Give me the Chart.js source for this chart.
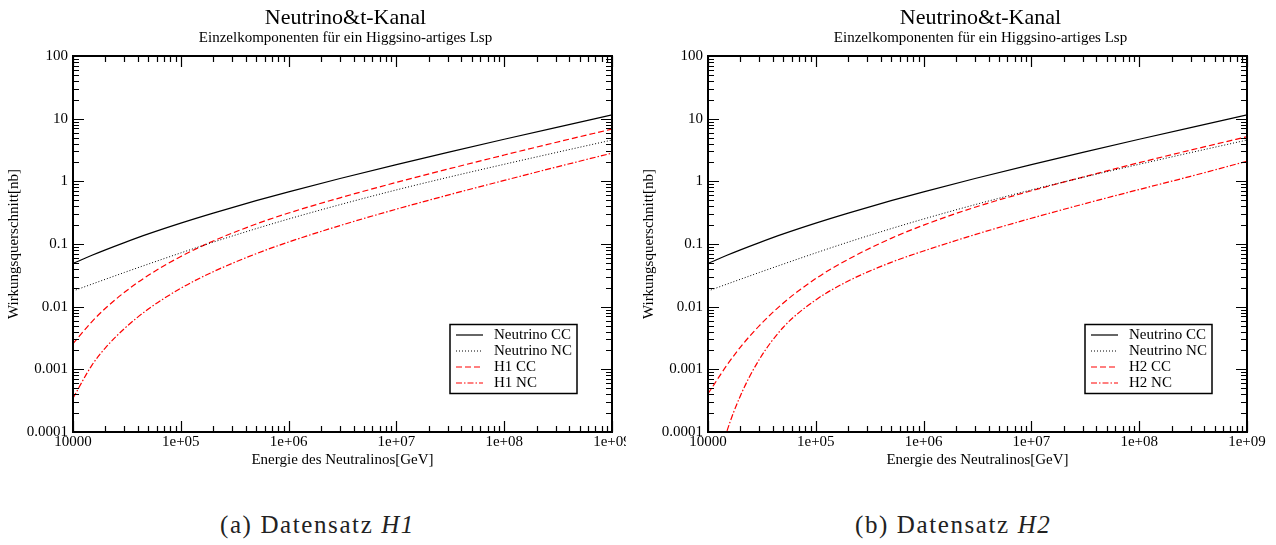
<!DOCTYPE html>
<html>
<head>
<meta charset="utf-8">
<script src="https://cdn.jsdelivr.net/npm/chart.js@4/dist/chart.umd.min.js"></script>
<style>
  body { margin: 0; background: #fff; width: 1276px; height: 545px; position: relative; overflow: hidden; }
  canvas { position: absolute; top: 0; }
  #chartA { left: 0; }
  #chartB { left: 636px; }
  .caption { position: absolute; top: 512px; font-family: "Liberation Serif", serif; font-size: 25px; line-height: 25px; letter-spacing: 1.6px; color: #222; white-space: nowrap; }
  #capA { left: 220px; }
  #capB { left: 855px; }
</style>
</head>
<body>
<canvas id="chartA" width="626" height="480"></canvas>
<canvas id="chartB" width="640" height="480"></canvas>
<div class="caption" id="capA">(a) Datensatz <i>H1</i></div>
<div class="caption" id="capB">(b) Datensatz <i>H2</i></div>
<script>
// neutralino energy in GeV
const energies = [1e4, 1.5e4, 2e4, 3e4, 5e4, 1e5, 2e5, 5e5, 1e6, 3e6, 1e7, 3e7, 1e8, 3e8, 1e9];

// cross sections in nb
const neutrinoCC = [0.049, 0.0661, 0.0807, 0.1054, 0.1449, 0.2153, 0.3112, 0.492, 0.6808, 1.109, 1.849, 2.904, 4.699, 7.211, 11.46];
const neutrinoNC = [0.01778, 0.02291, 0.02738, 0.03516, 0.04786, 0.07211, 0.1072, 0.1758, 0.2506, 0.4246, 0.7295, 1.156, 1.871, 2.871, 4.56];
const h1CC = [0.00257, 0.005781, 0.009419, 0.01694, 0.03162, 0.06324, 0.1117, 0.2084, 0.3119, 0.5458, 0.9616, 1.567, 2.63, 4.169, 6.823];
const h1NC = [0.0003467, 0.001169, 0.002203, 0.004477, 0.009162, 0.01963, 0.03614, 0.06998, 0.1076, 0.1968, 0.3597, 0.6026, 1.035, 1.679, 2.818];
const h2CC = [0.0004074, 0.001169, 0.002265, 0.004989, 0.01143, 0.02812, 0.05702, 0.123, 0.2, 0.3864, 0.7063, 1.169, 1.986, 3.148, 5.152];
const h2NC = [0.00000912, 0.000104, 0.0003802, 0.001449, 0.004699, 0.01282, 0.02564, 0.05093, 0.07727, 0.1413, 0.2576, 0.4315, 0.7413, 1.202, 2.094];

const xTickValues = [1e4, 1e5, 1e6, 1e7, 1e8, 1e9];
const xTickLabels = ['10000', '1e+05', '1e+06', '1e+07', '1e+08', '1e+09'];
const yTickValues = [1e-4, 1e-3, 1e-2, 1e-1, 1, 10, 100];
const yTickLabels = ['0.0001', '0.001', '0.01', '0.1', '1', '10', '100'];

const titleText = 'Neutrino&t-Kanal';
const subtitleText = 'Einzelkomponenten für ein Higgsino-artiges Lsp';
const xTitle = 'Energie des Neutralinos[GeV]';
const yTitle = 'Wirkungsquerschnitt[nb]';

const SERIF = '"Liberation Serif", "Times New Roman", serif';

function pts(ys) {
    return energies.map((e, i) => ({ x: e, y: ys[i] }));
}

// frame, inward ticks, labels, titles and the boxed legend
const framePlugin = {
    id: 'frame',
    afterDraw(chart) {
        const ctx = chart.ctx;
        const a = chart.chartArea;
        const xs = chart.scales.x;
        const ys = chart.scales.y;
        ctx.save();
        ctx.strokeStyle = '#000';
        ctx.lineWidth = 1.2;
        ctx.setLineDash([]);

        ctx.beginPath();
        for (let k = 4; k <= 9; k++) {
            for (let m = 1; m <= 9; m++) {
                const v = m * Math.pow(10, k);
                if (v > 1e9) break;
                const px = Math.round(xs.getPixelForValue(v)) + 0.5;
                const len = m === 1 ? 11 : 6;
                ctx.moveTo(px, a.bottom); ctx.lineTo(px, a.bottom - len);
                ctx.moveTo(px, a.top); ctx.lineTo(px, a.top + len);
            }
        }
        for (let k = -4; k <= 2; k++) {
            for (let m = 1; m <= 9; m++) {
                const v = m * Math.pow(10, k);
                if (v > 100) break;
                const py = Math.round(ys.getPixelForValue(v)) + 0.5;
                const len = m === 1 ? 11 : 6;
                ctx.moveTo(a.left, py); ctx.lineTo(a.left + len, py);
                ctx.moveTo(a.right, py); ctx.lineTo(a.right - len, py);
            }
        }
        ctx.stroke();

        ctx.lineWidth = 2;
        ctx.strokeRect(a.left, a.top, a.right - a.left, a.bottom - a.top);

        ctx.fillStyle = '#000';
        ctx.font = '15px ' + SERIF;
        ctx.textAlign = 'center';
        ctx.textBaseline = 'middle';
        xTickValues.forEach((v, i) => {
            ctx.fillText(xTickLabels[i], xs.getPixelForValue(v), a.bottom + 10);
        });
        ctx.textAlign = 'right';
        yTickValues.forEach((v, i) => {
            ctx.fillText(yTickLabels[i], a.left - 5, ys.getPixelForValue(v));
        });

        const cx = (a.left + a.right) / 2;
        ctx.textAlign = 'center';
        ctx.fillText(xTitle, cx, a.bottom + 28);
        ctx.save();
        ctx.translate(a.left - 59, (a.top + a.bottom) / 2);
        ctx.rotate(-Math.PI / 2);
        ctx.fillText(yTitle, 0, 0);
        ctx.restore();

        ctx.textBaseline = 'alphabetic';
        ctx.font = '22px ' + SERIF;
        ctx.fillText(titleText, cx + 3, 24);
        ctx.font = '15px ' + SERIF;
        ctx.fillText(subtitleText, cx + 3, 42);

        // legend
        const bx = a.left + 377, by = 324.5, bw = 127, bh = 69;
        ctx.fillStyle = '#fff';
        ctx.fillRect(bx, by, bw, bh);
        ctx.lineWidth = 1.5;
        ctx.strokeStyle = '#000';
        ctx.strokeRect(bx, by, bw, bh);
        ctx.textAlign = 'left';
        ctx.textBaseline = 'middle';
        chart.data.datasets.forEach((ds, i) => {
            const y = by + 10.5 + i * 16;
            ctx.beginPath();
            ctx.setLineDash(ds.borderDash || []);
            ctx.strokeStyle = ds.borderColor;
            ctx.lineWidth = ds.borderWidth;
            ctx.moveTo(bx + 6, y);
            ctx.lineTo(bx + 33, y);
            ctx.stroke();
            ctx.setLineDash([]);
            ctx.fillStyle = '#000';
            ctx.fillText(ds.label, bx + 44, y);
        });
        ctx.restore();
    }
};

function makeChart(id, tag, cc, nc, padLeft, padRight) {
    new Chart(document.getElementById(id), {
        type: 'line',
        data: {
            datasets: [
                { label: 'Neutrino CC', data: pts(neutrinoCC), borderColor: '#000', borderWidth: 1.2, borderDash: [] },
                { label: 'Neutrino NC', data: pts(neutrinoNC), borderColor: '#000', borderWidth: 1, borderDash: [1, 2] },
                { label: tag + ' CC', data: pts(cc), borderColor: '#ff0000', borderWidth: 1.2, borderDash: [6, 3] },
                { label: tag + ' NC', data: pts(nc), borderColor: '#ff0000', borderWidth: 1.2, borderDash: [6, 2, 1.5, 2] }
            ]
        },
        options: {
            responsive: false,
            animation: false,
            layout: { padding: { left: padLeft, right: padRight, top: 56, bottom: 48 } },
            elements: { point: { radius: 0 }, line: { cubicInterpolationMode: 'monotone', fill: false } },
            scales: {
                x: { type: 'logarithmic', min: 1e4, max: 1e9, display: false },
                y: { type: 'logarithmic', min: 1e-4, max: 100, display: false }
            },
            plugins: { legend: { display: false }, tooltip: { enabled: false }, title: { display: false } }
        },
        plugins: [framePlugin]
    });
}

makeChart('chartA', 'H1', h1CC, h1NC, 73, 14);
makeChart('chartB', 'H2', h2CC, h2NC, 72, 29);
</script>
</body>
</html>
